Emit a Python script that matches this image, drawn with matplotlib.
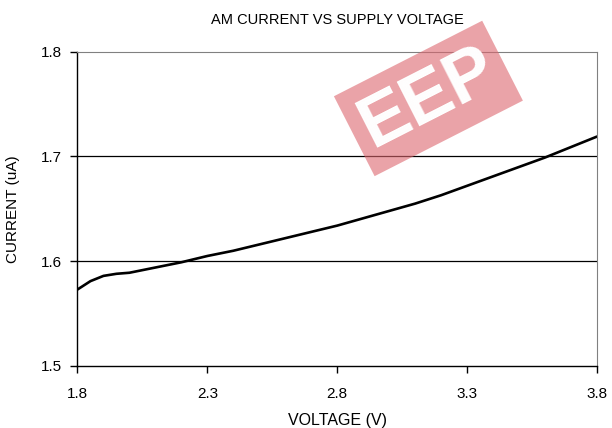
import matplotlib
matplotlib.use("Agg")
from matplotlib import pyplot as plt

plt.rcParams["font.family"] = ["Liberation Sans", "DejaVu Sans"]
plt.rcParams["font.size"] = 10

voltage = [1.8, 1.85, 1.9, 1.95, 2.0, 2.1, 2.2, 2.3, 2.4, 2.5, 2.6, 2.7, 2.8,
           2.9, 3.0, 3.1, 3.2, 3.3, 3.4, 3.5, 3.6, 3.7, 3.8]
current = [1.573, 1.581, 1.586, 1.588, 1.589, 1.594, 1.599, 1.605, 1.610, 1.616, 1.622, 1.628, 1.634,
           1.641, 1.648, 1.655, 1.663, 1.672, 1.681, 1.690, 1.699, 1.709, 1.719]
xticks = [1.8, 2.3, 2.8, 3.3, 3.8]
yticks = [1.5, 1.6, 1.7, 1.8]

fig = plt.figure(figsize=(6.12, 4.28), dpi=100)
ax = fig.add_axes([0.1266, 0.1449, 0.8489, 0.7343])

ax.plot(voltage, current, color="black", lw=1.9, solid_capstyle="round",
        solid_joinstyle="round")
ax.set_xlim(1.8, 3.8)
ax.set_ylim(1.5, 1.8)
ax.set_xticks(xticks)
ax.set_yticks(yticks)
ax.set_xticklabels([f"{v:.1f}" for v in xticks])
ax.set_yticklabels([f"{v:.1f}" for v in yticks])
for y in yticks[1:3]:
    ax.axhline(y, color="black", lw=0.9, zorder=1)

ax.spines["top"].set_color("#808080")
ax.spines["right"].set_color("#808080")
ax.spines["left"].set_linewidth(1.0)
ax.spines["bottom"].set_linewidth(1.0)
ax.tick_params(direction="out", length=5, width=1, labelsize=11)
ax.tick_params(axis="x", pad=10)
ax.tick_params(axis="y", pad=6)

ax.set_title("AM CURRENT VS SUPPLY VOLTAGE", fontsize=10.5, pad=20)
ax.set_xlabel("VOLTAGE (V)", fontsize=11.5, labelpad=9)
ax.set_ylabel("CURRENT (uA)", fontsize=11, labelpad=15)

# watermark
fig.text(0.70, 0.77, "EEP", rotation=27, fontsize=52, fontweight="bold",
         color="white", ha="center", va="center", zorder=10,
         bbox=dict(facecolor=(0.867, 0.40, 0.433), alpha=0.6, edgecolor="none", pad=8))

fig.savefig("out.png", dpi=100)
